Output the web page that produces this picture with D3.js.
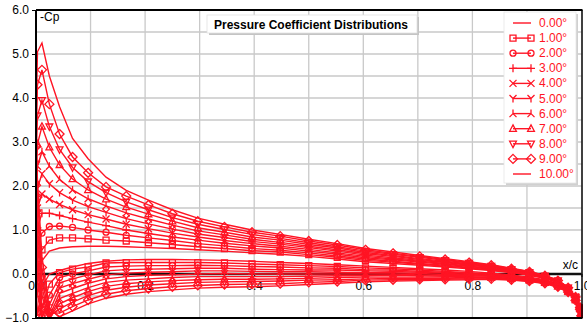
<!DOCTYPE html>
<html>
<head>
<meta charset="utf-8">
<script src="https://cdn.jsdelivr.net/npm/d3@7"></script>
<style>
  body { margin: 0; background: #fff; }
  svg { display: block; font-family: "Liberation Sans", Arial, sans-serif; }
</style>
</head>
<body>
<div id="chart"></div>
<script>
// panel stations (x/c), same on both surfaces
var xStations = [0, 0.0027, 0.0109, 0.0245, 0.0432, 0.0670, 0.0955, 0.1284, 0.1654, 0.2061, 0.2500,
    0.2966, 0.3455, 0.3960, 0.4477, 0.5000, 0.5523, 0.6040, 0.6545, 0.7034, 0.7500,
    0.7939, 0.8346, 0.8716, 0.9045, 0.9330, 0.9568, 0.9755, 0.9891, 0.9973, 1.0];

// -Cp on the upper surface, one array per angle
var up0 = [-0.70, 0.05, 0.30, 0.52, 0.59, 0.62, 0.63, 0.63, 0.62, 0.60, 0.58, 0.55, 0.52, 0.48, 0.45, 0.40, 0.34, 0.28, 0.24, 0.20, 0.16, 0.12, 0.08, 0.03, -0.03, -0.10, -0.20, -0.35, -0.54, -0.77, -0.95];
var up1 = [-0.30, 0.35, 0.55, 0.77, 0.82, 0.82, 0.80, 0.77, 0.75, 0.71, 0.67, 0.62, 0.58, 0.53, 0.50, 0.44, 0.38, 0.31, 0.27, 0.22, 0.18, 0.14, 0.09, 0.04, -0.02, -0.09, -0.19, -0.35, -0.54, -0.77, -0.95];
var up2 = [0.10, 0.65, 0.93, 1.08, 1.09, 1.06, 1.00, 0.95, 0.88, 0.82, 0.76, 0.69, 0.64, 0.58, 0.54, 0.48, 0.41, 0.34, 0.29, 0.24, 0.20, 0.15, 0.11, 0.05, -0.01, -0.09, -0.19, -0.34, -0.54, -0.77, -0.95];
var up3 = [0.50, 1.05, 1.38, 1.38, 1.33, 1.26, 1.18, 1.10, 1.00, 0.92, 0.84, 0.77, 0.70, 0.64, 0.59, 0.52, 0.45, 0.37, 0.32, 0.27, 0.22, 0.17, 0.12, 0.06, 0.00, -0.08, -0.18, -0.34, -0.53, -0.77, -0.95];
var up4 = [0.90, 1.50, 1.82, 1.70, 1.58, 1.46, 1.35, 1.25, 1.13, 1.03, 0.93, 0.84, 0.76, 0.69, 0.63, 0.56, 0.48, 0.40, 0.34, 0.29, 0.24, 0.18, 0.13, 0.07, 0.01, -0.07, -0.18, -0.33, -0.53, -0.77, -0.95];
var up5 = [1.30, 1.95, 2.28, 2.05, 1.85, 1.68, 1.53, 1.40, 1.26, 1.14, 1.02, 0.91, 0.83, 0.74, 0.68, 0.60, 0.52, 0.43, 0.37, 0.31, 0.26, 0.20, 0.15, 0.08, 0.02, -0.07, -0.17, -0.33, -0.53, -0.77, -0.95];
var up6 = [1.70, 2.45, 2.78, 2.45, 2.15, 1.91, 1.71, 1.55, 1.39, 1.25, 1.11, 0.98, 0.89, 0.79, 0.72, 0.63, 0.55, 0.46, 0.40, 0.33, 0.27, 0.22, 0.16, 0.09, 0.02, -0.06, -0.16, -0.32, -0.53, -0.76, -0.95];
var up7 = [2.10, 2.95, 3.35, 2.88, 2.48, 2.16, 1.91, 1.70, 1.52, 1.36, 1.20, 1.05, 0.95, 0.84, 0.77, 0.67, 0.59, 0.49, 0.42, 0.35, 0.29, 0.23, 0.17, 0.10, 0.03, -0.05, -0.16, -0.32, -0.53, -0.76, -0.95];
var up8 = [2.50, 3.60, 3.95, 3.35, 2.83, 2.42, 2.10, 1.85, 1.64, 1.46, 1.28, 1.13, 1.01, 0.90, 0.81, 0.71, 0.62, 0.52, 0.45, 0.38, 0.31, 0.25, 0.18, 0.11, 0.04, -0.04, -0.15, -0.31, -0.52, -0.76, -0.95];
var up9 = [2.90, 4.30, 4.64, 3.86, 3.18, 2.66, 2.30, 1.98, 1.77, 1.57, 1.37, 1.20, 1.07, 0.95, 0.86, 0.75, 0.66, 0.55, 0.47, 0.40, 0.33, 0.26, 0.20, 0.12, 0.05, -0.04, -0.15, -0.31, -0.52, -0.76, -0.95];
var up10 = [3.30, 5.05, 5.25, 4.50, 3.80, 3.08, 2.62, 2.20, 1.90, 1.68, 1.46, 1.27, 1.13, 1.00, 0.90, 0.79, 0.69, 0.58, 0.50, 0.42, 0.35, 0.28, 0.21, 0.13, 0.06, -0.03, -0.14, -0.30, -0.52, -0.76, -0.95];

// -Cp on the lower surface
var lo0 = [-0.70, -0.95, -0.30, 0.00, 0.08, 0.16, 0.24, 0.29, 0.32, 0.33, 0.33, 0.32, 0.31, 0.29, 0.26, 0.24, 0.21, 0.18, 0.15, 0.12, 0.09, 0.06, 0.02, -0.02, -0.07, -0.13, -0.22, -0.36, -0.55, -0.78, -0.95];
var lo1 = [-0.30, -0.85, -0.80, -0.23, 0.03, 0.11, 0.16, 0.25, 0.26, 0.26, 0.26, 0.26, 0.25, 0.23, 0.21, 0.19, 0.17, 0.14, 0.12, 0.09, 0.06, 0.03, 0.00, -0.04, -0.09, -0.15, -0.23, -0.37, -0.56, -0.78, -0.95];
var lo2 = [0.10, -0.45, -0.98, -0.48, -0.08, 0.00, 0.07, 0.16, 0.18, 0.19, 0.19, 0.20, 0.19, 0.17, 0.16, 0.14, 0.13, 0.10, 0.09, 0.06, 0.04, 0.01, -0.01, -0.05, -0.10, -0.16, -0.24, -0.38, -0.56, -0.78, -0.95];
var lo3 = [0.50, -0.15, -0.95, -0.70, -0.20, -0.11, -0.02, 0.07, 0.10, 0.11, 0.12, 0.13, 0.13, 0.11, 0.10, 0.09, 0.09, 0.07, 0.06, 0.04, 0.02, -0.01, -0.03, -0.06, -0.11, -0.17, -0.25, -0.38, -0.57, -0.78, -0.95];
var lo4 = [0.90, 0.15, -0.85, -0.86, -0.32, -0.22, -0.12, -0.02, 0.02, 0.04, 0.05, 0.07, 0.07, 0.06, 0.05, 0.05, 0.04, 0.03, 0.03, 0.01, -0.01, -0.02, -0.04, -0.07, -0.12, -0.17, -0.25, -0.39, -0.57, -0.79, -0.95];
var lo5 = [1.30, 0.45, -0.70, -0.96, -0.44, -0.33, -0.21, -0.11, -0.06, -0.03, -0.02, 0.00, 0.01, 0.00, 0.00, 0.00, 0.00, 0.00, 0.00, -0.02, -0.03, -0.04, -0.05, -0.08, -0.13, -0.18, -0.26, -0.39, -0.58, -0.79, -0.95];
var lo6 = [1.70, 0.75, -0.50, -1.00, -0.56, -0.44, -0.31, -0.19, -0.14, -0.11, -0.08, -0.06, -0.06, -0.06, -0.06, -0.05, -0.04, -0.04, -0.03, -0.04, -0.05, -0.06, -0.07, -0.10, -0.13, -0.19, -0.27, -0.40, -0.58, -0.79, -0.95];
var lo7 = [2.10, 1.05, -0.30, -0.99, -0.68, -0.54, -0.40, -0.28, -0.22, -0.18, -0.15, -0.13, -0.12, -0.12, -0.11, -0.10, -0.08, -0.07, -0.07, -0.07, -0.07, -0.08, -0.08, -0.11, -0.14, -0.20, -0.28, -0.40, -0.59, -0.79, -0.95];
var lo8 = [2.50, 1.40, -0.10, -0.95, -0.79, -0.64, -0.49, -0.37, -0.30, -0.25, -0.22, -0.19, -0.18, -0.17, -0.16, -0.14, -0.13, -0.11, -0.10, -0.10, -0.10, -0.09, -0.09, -0.12, -0.15, -0.20, -0.28, -0.41, -0.59, -0.80, -0.95];
var lo9 = [2.90, 1.75, 0.15, -0.88, -0.89, -0.74, -0.59, -0.46, -0.38, -0.33, -0.29, -0.26, -0.24, -0.23, -0.22, -0.19, -0.17, -0.14, -0.13, -0.12, -0.12, -0.11, -0.11, -0.13, -0.16, -0.21, -0.29, -0.41, -0.60, -0.80, -0.95];
var lo10 = [3.30, 2.10, 0.40, -0.80, -0.97, -0.84, -0.68, -0.55, -0.46, -0.40, -0.36, -0.32, -0.30, -0.29, -0.27, -0.24, -0.21, -0.18, -0.16, -0.15, -0.14, -0.13, -0.12, -0.14, -0.17, -0.22, -0.30, -0.42, -0.60, -0.80, -0.95];

var angles = ["0.00°", "1.00°", "2.00°", "3.00°", "4.00°", "5.00°", "6.00°", "7.00°", "8.00°", "9.00°", "10.00°"];
var markers = ["none", "square", "circle", "plus", "cross", "y", "yinv", "triUp", "triDown", "diamond", "none"];
var upperSets = [up0, up1, up2, up3, up4, up5, up6, up7, up8, up9, up10];
var lowerSets = [lo0, lo1, lo2, lo3, lo4, lo5, lo6, lo7, lo8, lo9, lo10];

var yTicks = [-1, 0, 1, 2, 3, 4, 5, 6];
var xTicks = [0, 0.2, 0.4, 0.6, 0.8, 1.0];

var red = "#ff1424";
var W = 587, H = 326;

var x = d3.scaleLinear().domain([0, 1]).range([36, 581.5]);
var y = d3.scaleLinear().domain([-1, 6]).range([318, 10]);

var svg = d3.select("#chart").append("svg")
    .attr("width", W)
    .attr("height", H);

// grid
svg.append("g")
    .selectAll("line")
    .data(d3.range(1, 10).map(function (d) { return d / 10; }))
    .enter().append("line")
    .attr("x1", function (d) { return x(d); })
    .attr("x2", function (d) { return x(d); })
    .attr("y1", y(6)).attr("y2", y(-1))
    .attr("stroke", "#c9c9c9").attr("stroke-width", 1.3);

svg.append("g")
    .selectAll("line")
    .data(d3.range(-1, 6.01, 0.5))
    .enter().append("line")
    .attr("x1", x(0)).attr("x2", x(1))
    .attr("y1", function (d) { return y(d); })
    .attr("y2", function (d) { return y(d); })
    .attr("stroke", "#c9c9c9").attr("stroke-width", 1.3);

// y axis labels
var yAxis = svg.append("g")
    .attr("transform", "translate(" + x(0) + ",0)")
    .call(d3.axisLeft(y).tickValues(yTicks).tickFormat(d3.format(".1f")).tickSize(4).tickPadding(3));
yAxis.select(".domain").remove();
yAxis.selectAll("text").attr("font-size", 12).attr("fill", "#000").attr("font-family", "Liberation Sans, Arial, sans-serif");
yAxis.selectAll("line").attr("stroke", "#000");

// zero line with x labels
var xAxis = svg.append("g")
    .attr("transform", "translate(0," + y(0) + ")")
    .call(d3.axisBottom(x).tickValues(xTicks).tickFormat(d3.format(".1f")).tickSize(3).tickPadding(4));
xAxis.select(".domain").remove();
xAxis.selectAll("text").attr("font-size", 12).attr("fill", "#000").attr("font-family", "Liberation Sans, Arial, sans-serif");
xAxis.selectAll("line").attr("stroke", "#000");

svg.append("line")
    .attr("x1", x(0)).attr("x2", x(1))
    .attr("y1", y(0)).attr("y2", y(0))
    .attr("stroke", "#111").attr("stroke-width", 2.5);

// marker shapes
function markerPath(type) {
    switch (type) {
        case "square": return "M-3,-3h6v6h-6z";
        case "circle": return "M3,0A3,3 0 1,1 -3,0A3,3 0 1,1 3,0Z";
        case "plus": return "M-4,0H4M0,-4V4";
        case "cross": return "M-3.5,-3.5L3.5,3.5M-3.5,3.5L3.5,-3.5";
        case "y": return "M-3.5,-3.5L0,0L3.5,-3.5M0,0V4";
        case "yinv": return "M-3.5,3.5L0,0L3.5,3.5M0,0V-4";
        case "triUp": return "M0,-3.8L3.4,2.6H-3.4Z";
        case "triDown": return "M0,3.8L3.4,-2.6H-3.4Z";
        case "diamond": return "M0,-4.5L4.5,0L0,4.5L-4.5,0Z";
    }
    return null;
}

svg.append("clipPath").attr("id", "plotclip")
    .append("rect").attr("x", x(0) - 1).attr("y", y(6)).attr("width", x(1) - x(0) + 2).attr("height", y(-1) - y(6));

var line = d3.line()
    .x(function (d) { return x(d[0]); })
    .y(function (d) { return y(d[1]); });

var plot = svg.append("g").attr("clip-path", "url(#plotclip)");

angles.forEach(function (a, k) {
    [upperSets[k], lowerSets[k]].forEach(function (vals) {
        var pts = xStations.map(function (xv, i) { return [xv, vals[i]]; });
        plot.append("path")
            .datum(pts)
            .attr("d", line)
            .attr("fill", "none")
            .attr("stroke", red)
            .attr("stroke-width", 1.4);
        var p = markerPath(markers[k]);
        if (p) {
            plot.append("g").selectAll("path")
                .data(pts)
                .enter().append("path")
                .attr("transform", function (d) { return "translate(" + x(d[0]) + "," + y(d[1]) + ")"; })
                .attr("d", p)
                .attr("fill", "none")
                .attr("stroke", red)
                .attr("stroke-width", 1.3);
        }
    });
});

// frame
svg.append("line").attr("x1", x(0)).attr("x2", x(0)).attr("y1", y(6)).attr("y2", y(-1))
    .attr("stroke", "#000").attr("stroke-width", 2);
svg.append("line").attr("x1", x(0)).attr("x2", x(1) + 1).attr("y1", y(6)).attr("y2", y(6))
    .attr("stroke", "#000").attr("stroke-width", 2);
svg.append("line").attr("x1", x(0)).attr("x2", x(1) + 1).attr("y1", y(-1)).attr("y2", y(-1))
    .attr("stroke", "#000").attr("stroke-width", 2);
svg.append("line").attr("x1", x(1) + 0.5).attr("x2", x(1) + 0.5).attr("y1", y(6)).attr("y2", y(-1))
    .attr("stroke", "#000").attr("stroke-width", 1.5);

// axis names
svg.append("text").attr("x", 40).attr("y", 21).attr("font-size", 12).text("-Cp");
svg.append("text").attr("x", 578).attr("y", 269).attr("text-anchor", "end").attr("font-size", 12).text("x/c");

// title box
svg.append("rect").attr("x", 209).attr("y", 17).attr("width", 210).attr("height", 18).attr("fill", "#c4c4c4");
svg.append("rect").attr("x", 207).attr("y", 15).attr("width", 210).attr("height", 18)
    .attr("fill", "#fff").attr("stroke", "#e2e2e2").attr("stroke-width", 0.8);
svg.append("text").attr("x", 311).attr("y", 29).attr("text-anchor", "middle")
    .attr("font-size", 12).attr("font-weight", "bold").text("Pressure Coefficient Distributions");

// legend
svg.append("rect").attr("x", 506).attr("y", 14).attr("width", 72).attr("height", 171).attr("fill", "#d0d0d0");
svg.append("rect").attr("x", 504).attr("y", 12).attr("width", 72).attr("height", 171)
    .attr("fill", "#fff").attr("stroke", "#e6e6e6").attr("stroke-width", 0.8);

var legend = svg.append("g").selectAll("g")
    .data(angles)
    .enter().append("g")
    .attr("transform", function (d, i) { return "translate(0," + (23 + i * 15.1) + ")"; });

legend.append("line").attr("x1", 513).attr("x2", 531).attr("y1", 0).attr("y2", 0)
    .attr("stroke", red).attr("stroke-width", 1.4);
legend.each(function (d, i) {
    var p = markerPath(markers[i]);
    if (!p) return;
    d3.select(this).selectAll("path.m").data([513, 531]).enter().append("path")
        .attr("class", "m")
        .attr("transform", function (v) { return "translate(" + v + ",0)"; })
        .attr("d", p).attr("fill", "none").attr("stroke", red).attr("stroke-width", 1.3);
});
legend.append("text").attr("x", 539).attr("y", 4).attr("font-size", 12).attr("fill", red)
    .text(function (d) { return d; });
</script>
</body>
</html>
